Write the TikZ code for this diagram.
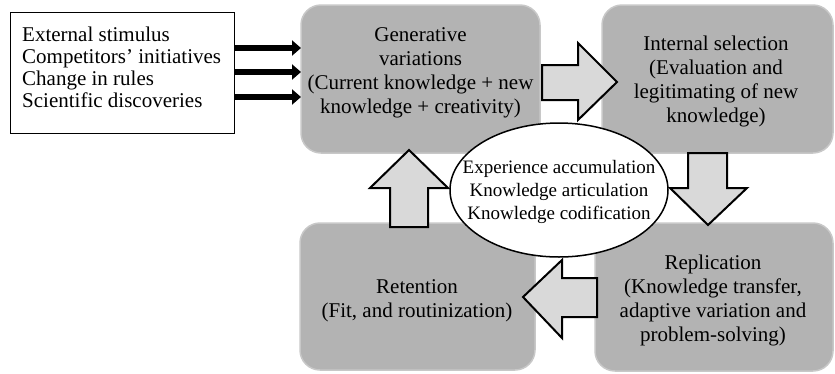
\documentclass[tikz,border=0pt]{standalone}
\usepackage{fontspec}
\setmainfont{Liberation Serif}
\usetikzlibrary{arrows.meta,shapes.geometric}
\definecolor{boxgray}{HTML}{B3B3B3}
\definecolor{boxedge}{HTML}{C8C8C8}
\definecolor{arrowgray}{HTML}{D9D9D9}
\begin{document}
\begin{tikzpicture}[x=1pt,y=-1pt,
  stage/.style={fill=boxgray,draw=boxedge,line width=1.5pt,rounded corners=20pt},
  stagetext/.style={align=center,font=\fontsize{21}{24}\selectfont,inner sep=0pt},
  blockarrow/.style={fill=arrowgray,draw=black,line width=2pt,line join=miter},
  inarrow/.style={line width=6pt,-{Triangle[length=9pt,width=15pt]}}]
\useasboundingbox (0,0) rectangle (835,373);
% stage boxes
\draw[stage] (301,5) rectangle (540,153);
\draw[stage] (602,5) rectangle (833,153);
\draw[stage] (300,223) rectangle (535,370);
\draw[stage] (595,223) rectangle (833,371);
\node[stagetext] (gen) at (420.5,73) {Generative\\variations\\(Current knowledge + new\\knowledge + creativity)};
\node[stagetext] (sel) at (716,81) {Internal selection\\(Evaluation and\\legitimating of new\\knowledge)};
\node[stagetext] (ret) at (417,301) {Retention\\(Fit, and routinization)};
\node[stagetext] (rep) at (713,300) {Replication\\(Knowledge transfer,\\adaptive variation and\\problem-solving)};
\coordinate (genW) at (301,79);
% source box
\node[draw=black,line width=1pt,fill=white,minimum width=224pt,minimum height=121pt,anchor=north west,inner sep=0pt] (src) at (10,12) {};
\node[align=left,anchor=west,font=\fontsize{21}{22}\selectfont,inner sep=0pt] (srct) at (22,67) {External stimulus\\Competitors’ initiatives\\Change in rules\\Scientific discoveries};
% input arrows
\draw[inarrow] (src.east |- 0,48) -- (genW |- 0,48);
\draw[inarrow] (src.east |- 0,72) -- (genW |- 0,72);
\draw[inarrow] (src.east |- 0,97) -- (genW |- 0,97);
% block arrows
\draw[blockarrow] (542,65) -- (578,65) -- (578,43) -- (617,82) -- (578,120) -- (578,100) -- (542,100) -- cycle;
\draw[blockarrow] (688,153) -- (727,153) -- (727,188) -- (747,188) -- (708,225) -- (670,188) -- (688,188) -- cycle;
\draw[blockarrow] (597,278) -- (562,278) -- (562,260) -- (523,297) -- (562,338) -- (562,317) -- (597,317) -- cycle;
\draw[blockarrow] (390,227) -- (390,188) -- (370,188) -- (409,150) -- (448,188) -- (428,188) -- (428,227) -- cycle;
% central ellipse
\node[ellipse,draw=black,line width=1.5pt,fill=white,minimum width=218pt,minimum height=134pt,inner sep=0pt] (core) at (559,190) {};
\node[align=center,font=\fontsize{19}{23}\selectfont,inner sep=0pt] (coret) at (559,192) {Experience accumulation\\Knowledge articulation\\Knowledge codification};
\end{tikzpicture}
\end{document}
